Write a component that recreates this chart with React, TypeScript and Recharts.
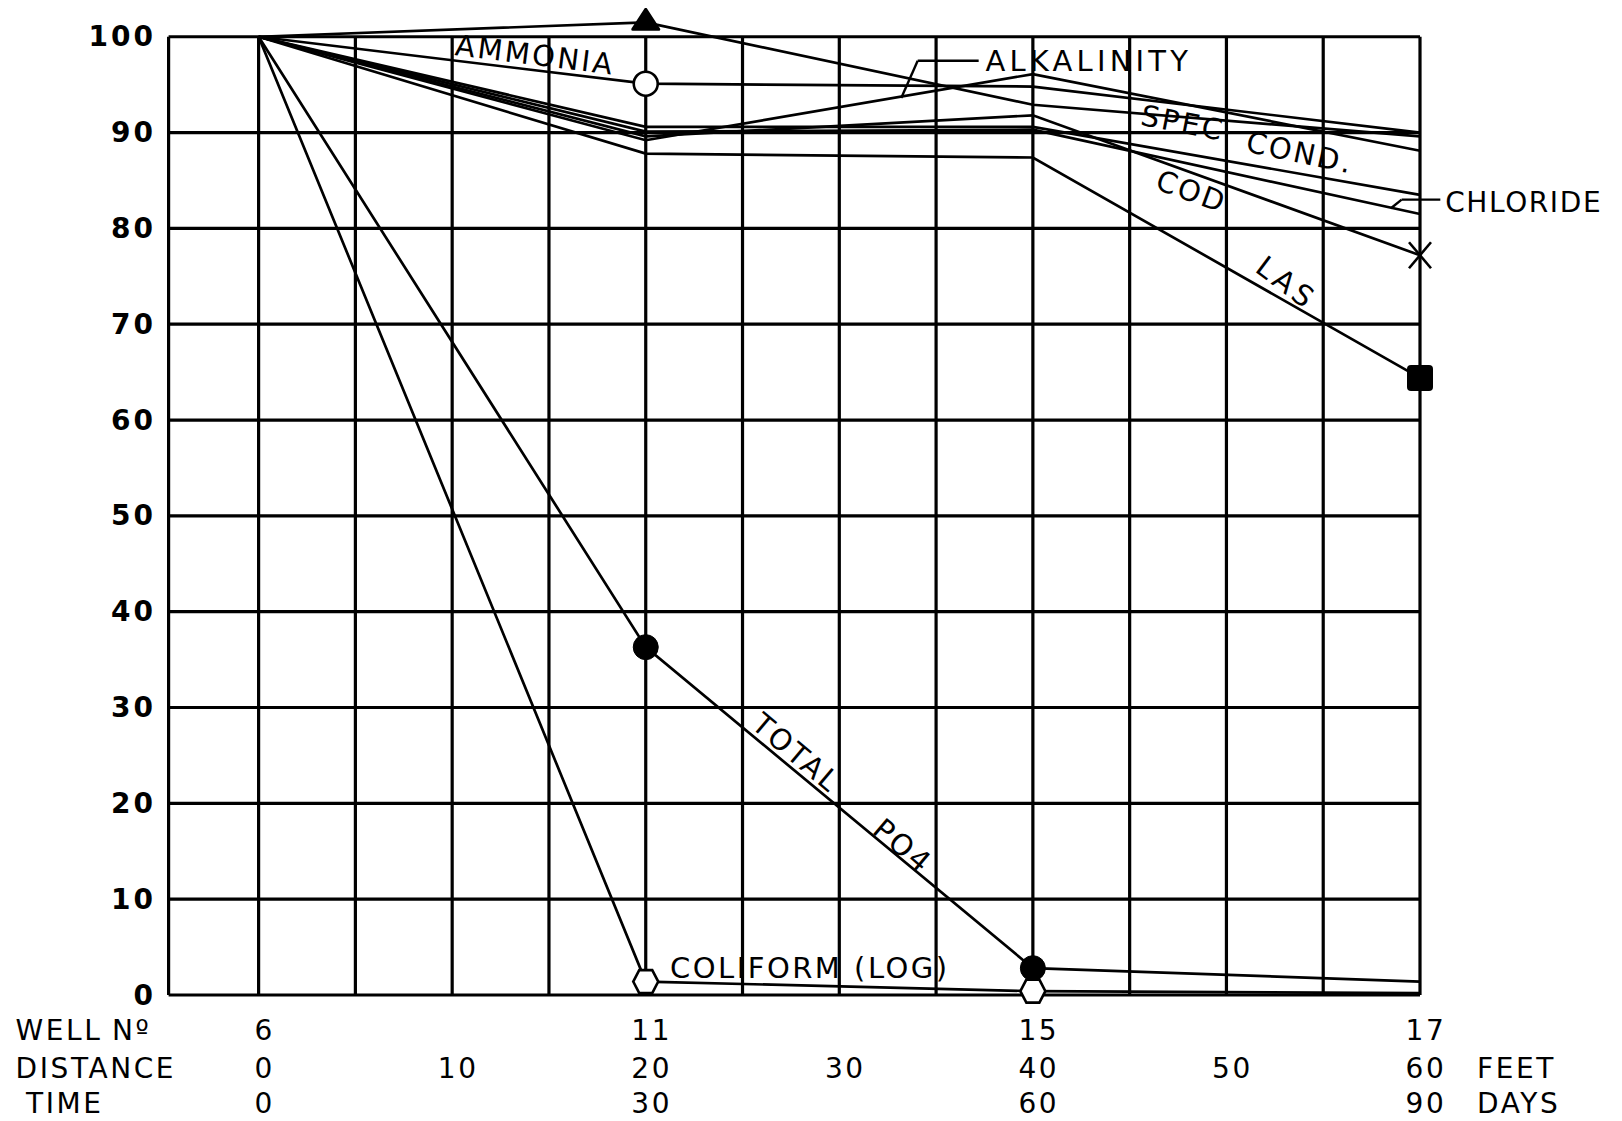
import React from 'react';
import { LineChart, Line, XAxis, YAxis, ReferenceLine, ReferenceDot } from 'recharts';

// ---- data ----
const distanceFeet = [0, 20, 40, 60];
const wellNumbers = ['6', '11', '15', '17'];
const timeDays = ['0', '30', '60', '90'];
const distanceTicks = [0, 10, 20, 30, 40, 50, 60];
const gridFeet = [-4.65, 0, 5, 10, 15, 20, 25, 30, 35, 40, 45, 50, 55, 60];
const percentTicks = [0, 10, 20, 30, 40, 50, 60, 70, 80, 90, 100];

const triangleSeries = [100, 101.5, 92.9, 89.6];
const ammonia = [100, 95.1, 94.8, 90.0];
const alkalinity = [100, 89.2, 96.1, 88.1];
const specCond = [100, 90.6, 90.6, 83.5];
const chloride = [100, 90.1, 90.3, 81.5];
const cod = [100, 89.6, 91.8, 77.2];
const las = [100, 87.8, 87.4, 64.4];
const totalPO4 = [100, 36.3, 2.8, 1.4];
const coliformLog = [100, 1.4, 0.4, 0.2];

const data = distanceFeet.map((d, i) => ({
  distance: d,
  tri: triangleSeries[i],
  ammonia: ammonia[i],
  alkalinity: alkalinity[i],
  specCond: specCond[i],
  chloride: chloride[i],
  cod: cod[i],
  las: las[i],
  po4: totalPO4[i],
  coliform: coliformLog[i],
}));

const seriesDefs = [
  { key: 'tri', marker: 'triangle', at: [1] },
  { key: 'ammonia', marker: 'openCircle', at: [1] },
  { key: 'alkalinity', marker: 'none', at: [] },
  { key: 'specCond', marker: 'none', at: [] },
  { key: 'chloride', marker: 'none', at: [] },
  { key: 'cod', marker: 'x', at: [3] },
  { key: 'las', marker: 'square', at: [3] },
  { key: 'po4', marker: 'filledCircle', at: [1, 2] },
  { key: 'coliform', marker: 'hexagon', at: [1, 2] },
];

// in-plot labels: text, x (feet), y (percent), rotation, anchor, letter spacing, size
const plotLabels = [
  { text: 'AMMONIA', x: 14.28, y: 98.1, rot: 7, anchor: 'middle', ls: 2.5, fs: 29 },
  { text: 'ALKALINITY', x: 37.55, y: 97.5, rot: 0, anchor: 'start', ls: 4.2, fs: 29 },
  { text: 'SPEC', x: 47.75, y: 91.0, rot: 11, anchor: 'middle', ls: 2.5, fs: 29 },
  { text: 'COND.', x: 53.8, y: 87.9, rot: 12, anchor: 'middle', ls: 2.5, fs: 29 },
  { text: 'COD', x: 48.2, y: 83.85, rot: 20, anchor: 'middle', ls: 2.5, fs: 29 },
  { text: 'LAS', x: 53.1, y: 74.3, rot: 37, anchor: 'middle', ls: 4, fs: 29 },
  { text: 'CHLORIDE', x: 61.3, y: 82.7, rot: 0, anchor: 'start', ls: 1.6, fs: 28 },
  { text: 'TOTAL', x: 27.78, y: 25.25, rot: 40, anchor: 'middle', ls: 2.5, fs: 29 },
  { text: 'PO4', x: 33.28, y: 15.55, rot: 40, anchor: 'middle', ls: 2.5, fs: 29 },
  { text: 'COLIFORM (LOG)', x: 21.25, y: 2.8, rot: 0, anchor: 'start', ls: 2.5, fs: 29 },
];

const leaderSegments = [
  [{ x: 37.2, y: 97.5 }, { x: 34.05, y: 97.5 }],
  [{ x: 34.05, y: 97.5 }, { x: 33.2, y: 93.6 }],
  [{ x: 61.05, y: 83.0 }, { x: 59.05, y: 83.0 }],
  [{ x: 59.05, y: 83.0 }, { x: 58.5, y: 82.1 }],
];

const FONT = '"DejaVu Sans", Verdana, sans-serif';
const GRID_W = 3.2;
const LINE_W = 2.7;

const makeDot = (marker: string, at: number[]) => (props: any) => {
  const { cx, cy, index } = props;
  const k = `dot-${marker}-${index}`;
  if (!at.includes(index) || cx == null || cy == null) return <g key={k} />;
  switch (marker) {
    case 'triangle':
      return (
        <polygon key={k} points={`${cx},${cy - 13} ${cx + 13},${cy + 7} ${cx - 13},${cy + 7}`}
          fill="#000" stroke="#000" strokeWidth={3} strokeLinejoin="round" />
      );
    case 'openCircle':
      return <circle key={k} cx={cx} cy={cy} r={12} fill="#fff" stroke="#000" strokeWidth={2.6} />;
    case 'filledCircle':
      return <circle key={k} cx={cx} cy={cy} r={12.5} fill="#000" stroke="#000" strokeWidth={1} />;
    case 'hexagon':
      return (
        <polygon key={k}
          points={`${cx - 12.5},${cy} ${cx - 6.5},${cy - 11.5} ${cx + 6.5},${cy - 11.5} ${cx + 12.5},${cy} ${cx + 6.5},${cy + 11.5} ${cx - 6.5},${cy + 11.5}`}
          fill="#fff" stroke="#000" strokeWidth={2.6} />
      );
    case 'x':
      return (
        <g key={k} stroke="#000" strokeWidth={2.6}>
          <line x1={cx - 11} y1={cy - 13} x2={cx + 11} y2={cy + 13} />
          <line x1={cx + 11} y1={cy - 13} x2={cx - 11} y2={cy + 13} />
        </g>
      );
    case 'square':
      return <rect key={k} x={cx - 13} y={cy - 13} width={26} height={26} rx={4} fill="#000" />;
    default:
      return <g key={k} />;
  }
};

const YTick = (props: any) => {
  const { y, payload } = props;
  return (
    <text x={148} y={y} textAnchor="end" dominantBaseline="central" fontFamily={FONT}
      fontSize={28} fontWeight="bold" letterSpacing={3} fill="#000">
      {payload.value}
    </text>
  );
};

const ROW_WELL = 1022;
const ROW_DIST = 1060;
const ROW_TIME = 1095;

const XTick = (props: any) => {
  const { x, payload } = props;
  const v = payload.value;
  const idx = distanceFeet.indexOf(v);
  const tx = x + 6;
  const common = { fontFamily: FONT, fontSize: 28, letterSpacing: 2.6, fill: '#000', dominantBaseline: 'central' as const };
  return (
    <g>
      {v === 0 && (
        <>
          <text x={7.5} y={ROW_WELL} textAnchor="start" {...common}>WELL</text>
          <text x={104} y={ROW_WELL} textAnchor="start" {...common}>N{'\u00BA'}</text>
          <text x={7.5} y={ROW_DIST} textAnchor="start" {...common}>DISTANCE</text>
          <text x={18} y={ROW_TIME} textAnchor="start" {...common}>TIME</text>
        </>
      )}
      {idx >= 0 && <text x={tx} y={ROW_WELL} textAnchor="middle" {...common}>{wellNumbers[idx]}</text>}
      <text x={tx} y={ROW_DIST} textAnchor="middle" {...common}>{v}</text>
      {idx >= 0 && <text x={tx} y={ROW_TIME} textAnchor="middle" {...common}>{timeDays[idx]}</text>}
      {v === 60 && (
        <>
          <text x={1469} y={ROW_DIST} textAnchor="start" {...common}>FEET</text>
          <text x={1469} y={ROW_TIME} textAnchor="start" {...common}>DAYS</text>
        </>
      )}
    </g>
  );
};

const makeLabelShape = (text: string, rot: number, anchor: string, ls: number, fs: number) => (props: any) => {
  const { cx, cy } = props;
  return (
    <text x={cx} y={cy} textAnchor={anchor as any} dominantBaseline="central" fontFamily={FONT}
      fontSize={fs} letterSpacing={ls} fill="#000" transform={`rotate(${rot} ${cx} ${cy})`}>
      {text}
    </text>
  );
};

export default function App() {
  return (
    <LineChart width={1606} height={1113} data={data} margin={{ top: 0, right: 194, bottom: 0, left: 0 }}>
      <XAxis dataKey="distance" type="number" domain={[-4.65, 60]} ticks={distanceTicks} height={126}
        axisLine={false} tickLine={false} tick={<XTick />} interval={0} />
      <YAxis type="number" domain={[0, 103]} ticks={percentTicks} width={160.6}
        axisLine={false} tickLine={false} tick={<YTick />} interval={0} />
      {percentTicks.map((p) => (
        <ReferenceLine key={`hg-${p}`} segment={[{ x: -4.65, y: p }, { x: 60, y: p }]} stroke="#000"
          strokeWidth={GRID_W} ifOverflow="visible" />
      ))}
      {gridFeet.map((g) => (
        <ReferenceLine key={`vg-${g}`} segment={[{ x: g, y: 0 }, { x: g, y: 100 }]} stroke="#000"
          strokeWidth={GRID_W} ifOverflow="visible" />
      ))}
      {leaderSegments.map((s, i) => (
        <ReferenceLine key={`ld-${i}`} segment={s} stroke="#000" strokeWidth={2.4} ifOverflow="visible" />
      ))}
      {seriesDefs.map((s) => (
        <Line key={s.key} dataKey={s.key} type="linear" stroke="#000" strokeWidth={LINE_W}
          dot={makeDot(s.marker, s.at)} activeDot={false} isAnimationActive={false} />
      ))}
      {plotLabels.map((l) => (
        <ReferenceDot key={`lb-${l.text}`} x={l.x} y={l.y} r={0} ifOverflow="visible"
          shape={makeLabelShape(l.text, l.rot, l.anchor, l.ls, l.fs)} />
      ))}
    </LineChart>
  );
}
